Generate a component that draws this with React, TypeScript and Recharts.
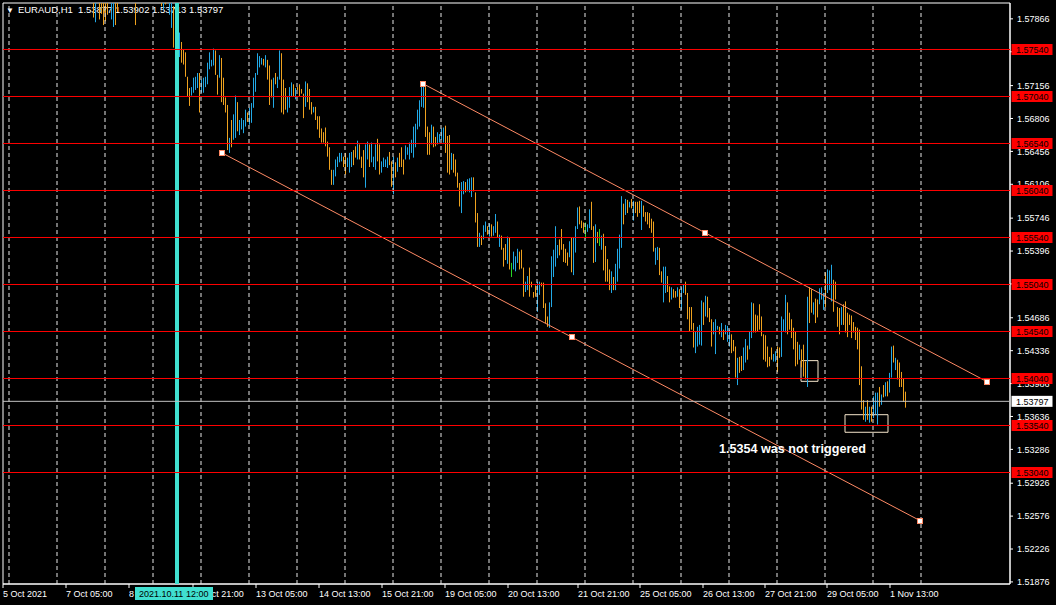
import React from "react";
import {
    ComposedChart,
    Bar,
    XAxis,
    YAxis,
    ReferenceLine,
    ReferenceDot,
    ReferenceArea,
} from "recharts";

// EURAUD H1, bar i = one hour, i = 0 is 5 Oct 2021 21:00
const highs = [
    1.5872, 1.5868, 1.5875, 1.5880, 1.5878, 1.5870, 1.5866, 1.5873, 1.5879, 1.5884,
    1.5888, 1.5882, 1.5876, 1.5870, 1.5864, 1.5868, 1.5874, 1.5871, 1.5866, 1.5860,
    1.5856, 1.5850, 1.5847, 1.5852, 1.5858, 1.5855, 1.5849, 1.5844, 1.5840, 1.5846,
    1.5851, 1.5848, 1.5842, 1.5838, 1.5835, 1.5840, 1.5845, 1.5843, 1.5838, 1.5834,
    1.5830, 1.5836, 1.5833, 1.5828, 1.5825, 1.5822, 1.5815, 1.5830, 1.5818, 1.5820,
    1.5815, 1.5812, 1.5818, 1.5826, 1.5820, 1.5812, 1.5808, 1.5815, 1.5828, 1.5832,
    1.5835, 1.5838, 1.5834, 1.5830, 1.5826, 1.5824, 1.5815, 1.5828, 1.5834, 1.5838,
    1.5842, 1.5845, 1.5840, 1.5836, 1.5838, 1.5834, 1.5830, 1.5826, 1.5822, 1.5818,
    1.5815, 1.5820, 1.5824, 1.5814, 1.5808, 1.5800, 1.5795, 1.5785, 1.5772, 1.5762,
    1.5754, 1.5751, 1.5725, 1.5713, 1.5714, 1.5724, 1.5725, 1.5729, 1.5729, 1.5722,
    1.5724, 1.5725, 1.5740, 1.5751, 1.5743, 1.5755, 1.5753, 1.5727, 1.5748, 1.5745,
    1.5724, 1.5703, 1.5695, 1.5660, 1.5679, 1.5685, 1.5705, 1.5698, 1.5679, 1.5681,
    1.5679, 1.5690, 1.5687, 1.5692, 1.5697, 1.5724, 1.5729, 1.5750, 1.5747, 1.5745,
    1.5744, 1.5748, 1.5743, 1.5737, 1.5722, 1.5724, 1.5729, 1.5725, 1.5753, 1.5750,
    1.5722, 1.5713, 1.5704, 1.5714, 1.5719, 1.5717, 1.5713, 1.5714, 1.5717, 1.5712,
    1.5707, 1.5720, 1.5718, 1.5712, 1.5698, 1.5693, 1.5693, 1.5683, 1.5683, 1.5670,
    1.5666, 1.5671, 1.5656, 1.5650, 1.5626, 1.5626, 1.5637, 1.5640, 1.5644, 1.5644,
    1.5640, 1.5644, 1.5639, 1.5644, 1.5645, 1.5647, 1.5651, 1.5657, 1.5653, 1.5640,
    1.5647, 1.5653, 1.5656, 1.5653, 1.5655, 1.5640, 1.5653, 1.5659, 1.5653, 1.5635,
    1.5639, 1.5637, 1.5640, 1.5645, 1.5635, 1.5640, 1.5634, 1.5639, 1.5644, 1.5650,
    1.5637, 1.5652, 1.5650, 1.5655, 1.5658, 1.5672, 1.5675, 1.5690, 1.5700, 1.5720,
    1.5719, 1.5714, 1.5672, 1.5666, 1.5674, 1.5672, 1.5661, 1.5666, 1.5664, 1.5670,
    1.5671, 1.5673, 1.5662, 1.5663, 1.5644, 1.5643, 1.5637, 1.5623, 1.5612, 1.5613,
    1.5614, 1.5613, 1.5616, 1.5617, 1.5618, 1.5618, 1.5602, 1.5580, 1.5559, 1.5556,
    1.5567, 1.5571, 1.5566, 1.5569, 1.5568, 1.5566, 1.5579, 1.5571, 1.5557, 1.5556,
    1.5543, 1.5547, 1.5555, 1.5554, 1.5527, 1.5539, 1.5534, 1.5542, 1.5539, 1.5541,
    1.5522, 1.5507, 1.5513, 1.5522, 1.5507, 1.5496, 1.5503, 1.5507, 1.5507, 1.5506,
    1.5506, 1.5484, 1.5470, 1.5485, 1.5534, 1.5541, 1.5566, 1.5546, 1.5552, 1.5563,
    1.5547, 1.5542, 1.5538, 1.5550, 1.5554, 1.5554, 1.5566, 1.5586, 1.5587, 1.5572,
    1.5570, 1.5570, 1.5568, 1.5584, 1.5592, 1.5566, 1.5568, 1.5560, 1.5563, 1.5556,
    1.5558, 1.5545, 1.5531, 1.5520, 1.5518, 1.5512, 1.5526, 1.5542, 1.5557, 1.5598,
    1.5590, 1.5595, 1.5594, 1.5592, 1.5595, 1.5593, 1.5592, 1.5592, 1.5593, 1.5593,
    1.5588, 1.5581, 1.5581, 1.5580, 1.5574, 1.5571, 1.5543, 1.5544, 1.5543, 1.5518,
    1.5523, 1.5523, 1.5513, 1.5502, 1.5501, 1.5499, 1.5497, 1.5501, 1.5499, 1.5501,
    1.5504, 1.5507, 1.5495, 1.5480, 1.5480, 1.5463, 1.5454, 1.5459, 1.5461, 1.5487,
    1.5485, 1.5492, 1.5491, 1.5479, 1.5467, 1.5464, 1.5467, 1.5460, 1.5459, 1.5463,
    1.5456, 1.5461, 1.5460, 1.5456, 1.5451, 1.5445, 1.5438, 1.5426, 1.5427, 1.5428,
    1.5437, 1.5446, 1.5439, 1.5454, 1.5485, 1.5484, 1.5472, 1.5471, 1.5483, 1.5470,
    1.5451, 1.5450, 1.5438, 1.5427, 1.5437, 1.5430, 1.5433, 1.5438, 1.5437, 1.5470,
    1.5467, 1.5493, 1.5485, 1.5474, 1.5467, 1.5458, 1.5454, 1.5443, 1.5440, 1.5435,
    1.5440, 1.5422, 1.5491, 1.5501, 1.5499, 1.5485, 1.5489, 1.5488, 1.5500, 1.5501,
    1.5495, 1.5517, 1.5520, 1.5519, 1.5525, 1.5509, 1.5507, 1.5480, 1.5479, 1.5480,
    1.5483, 1.5486, 1.5474, 1.5472, 1.5471, 1.5464, 1.5459, 1.5458, 1.5456, 1.5417,
    1.5381, 1.5374, 1.5381, 1.5374, 1.5374, 1.5385, 1.5389, 1.5389, 1.5395, 1.5387,
    1.5397, 1.5400, 1.5401, 1.5410, 1.5438, 1.5439, 1.5426, 1.5424, 1.5421, 1.5411,
    1.5404, 1.5390,
];

const lows = [
    1.5858, 1.5855, 1.5860, 1.5866, 1.5862, 1.5855, 1.5852, 1.5858, 1.5865, 1.5870,
    1.5874, 1.5868, 1.5862, 1.5856, 1.5850, 1.5853, 1.5860, 1.5857, 1.5850, 1.5845,
    1.5842, 1.5836, 1.5833, 1.5838, 1.5843, 1.5840, 1.5834, 1.5830, 1.5826, 1.5832,
    1.5837, 1.5834, 1.5828, 1.5823, 1.5820, 1.5825, 1.5831, 1.5828, 1.5822, 1.5818,
    1.5816, 1.5822, 1.5819, 1.5814, 1.5812, 1.5788, 1.5783, 1.5812, 1.5786, 1.5792,
    1.5780, 1.5784, 1.5791, 1.5808, 1.5786, 1.5778, 1.5780, 1.5794, 1.5810, 1.5815,
    1.5818, 1.5820, 1.5816, 1.5812, 1.5810, 1.5808, 1.5780, 1.5810, 1.5816, 1.5820,
    1.5824, 1.5828, 1.5822, 1.5818, 1.5820, 1.5816, 1.5812, 1.5810, 1.5808, 1.5800,
    1.5796, 1.5802, 1.5804, 1.5791, 1.5777, 1.5756, 1.5770, 1.5760, 1.5746, 1.5740,
    1.5738, 1.5725, 1.5704, 1.5694, 1.5705, 1.5708, 1.5711, 1.5713, 1.5687, 1.5708,
    1.5708, 1.5714, 1.5717, 1.5733, 1.5736, 1.5737, 1.5727, 1.5706, 1.5724, 1.5698,
    1.5695, 1.5687, 1.5647, 1.5644, 1.5650, 1.5658, 1.5660, 1.5667, 1.5663, 1.5669,
    1.5665, 1.5672, 1.5677, 1.5674, 1.5676, 1.5692, 1.5709, 1.5727, 1.5735, 1.5738,
    1.5737, 1.5735, 1.5722, 1.5695, 1.5703, 1.5692, 1.5717, 1.5713, 1.5722, 1.5687,
    1.5685, 1.5690, 1.5687, 1.5692, 1.5704, 1.5704, 1.5701, 1.5711, 1.5704, 1.5707,
    1.5681, 1.5693, 1.5698, 1.5690, 1.5685, 1.5687, 1.5679, 1.5669, 1.5660, 1.5655,
    1.5655, 1.5651, 1.5640, 1.5626, 1.5610, 1.5610, 1.5619, 1.5629, 1.5634, 1.5635,
    1.5629, 1.5621, 1.5629, 1.5623, 1.5629, 1.5631, 1.5639, 1.5637, 1.5637, 1.5628,
    1.5618, 1.5607, 1.5637, 1.5629, 1.5634, 1.5629, 1.5626, 1.5635, 1.5621, 1.5623,
    1.5629, 1.5629, 1.5628, 1.5631, 1.5608, 1.5600, 1.5618, 1.5624, 1.5629, 1.5629,
    1.5621, 1.5637, 1.5642, 1.5637, 1.5644, 1.5639, 1.5650, 1.5669, 1.5672, 1.5693,
    1.5692, 1.5661, 1.5642, 1.5642, 1.5653, 1.5650, 1.5651, 1.5653, 1.5655, 1.5658,
    1.5655, 1.5644, 1.5623, 1.5621, 1.5626, 1.5623, 1.5619, 1.5607, 1.5587, 1.5580,
    1.5600, 1.5602, 1.5603, 1.5602, 1.5597, 1.5603, 1.5570, 1.5544, 1.5544, 1.5546,
    1.5552, 1.5560, 1.5557, 1.5555, 1.5555, 1.5556, 1.5559, 1.5554, 1.5544, 1.5541,
    1.5523, 1.5530, 1.5526, 1.5520, 1.5512, 1.5520, 1.5518, 1.5527, 1.5520, 1.5521,
    1.5491, 1.5496, 1.5498, 1.5491, 1.5501, 1.5490, 1.5491, 1.5475, 1.5493, 1.5502,
    1.5479, 1.5463, 1.5459, 1.5458, 1.5480, 1.5512, 1.5523, 1.5532, 1.5535, 1.5541,
    1.5528, 1.5527, 1.5524, 1.5533, 1.5517, 1.5514, 1.5538, 1.5563, 1.5568, 1.5564,
    1.5559, 1.5553, 1.5560, 1.5564, 1.5562, 1.5527, 1.5528, 1.5548, 1.5545, 1.5541,
    1.5519, 1.5507, 1.5507, 1.5498, 1.5495, 1.5498, 1.5498, 1.5507, 1.5521, 1.5543,
    1.5568, 1.5578, 1.5580, 1.5586, 1.5585, 1.5572, 1.5580, 1.5576, 1.5580, 1.5562,
    1.5576, 1.5571, 1.5568, 1.5564, 1.5559, 1.5539, 1.5525, 1.5530, 1.5514, 1.5506,
    1.5485, 1.5495, 1.5496, 1.5485, 1.5488, 1.5490, 1.5490, 1.5491, 1.5479, 1.5477,
    1.5495, 1.5493, 1.5467, 1.5454, 1.5456, 1.5437, 1.5431, 1.5438, 1.5440, 1.5439,
    1.5461, 1.5470, 1.5469, 1.5464, 1.5438, 1.5451, 1.5430, 1.5456, 1.5451, 1.5448,
    1.5445, 1.5451, 1.5443, 1.5438, 1.5431, 1.5433, 1.5405, 1.5397, 1.5410, 1.5412,
    1.5413, 1.5421, 1.5424, 1.5435, 1.5447, 1.5453, 1.5453, 1.5454, 1.5456, 1.5449,
    1.5424, 1.5422, 1.5416, 1.5417, 1.5424, 1.5422, 1.5422, 1.5411, 1.5426, 1.5427,
    1.5454, 1.5453, 1.5451, 1.5456, 1.5447, 1.5435, 1.5417, 1.5419, 1.5424, 1.5416,
    1.5406, 1.5403, 1.5395, 1.5463, 1.5474, 1.5472, 1.5463, 1.5469, 1.5483, 1.5488,
    1.5477, 1.5480, 1.5495, 1.5498, 1.5486, 1.5475, 1.5488, 1.5459, 1.5451, 1.5461,
    1.5461, 1.5453, 1.5448, 1.5461, 1.5447, 1.5453, 1.5445, 1.5435, 1.5397, 1.5371,
    1.5360, 1.5358, 1.5360, 1.5357, 1.5358, 1.5362, 1.5366, 1.5355, 1.5374, 1.5376,
    1.5384, 1.5385, 1.5385, 1.5389, 1.5405, 1.5421, 1.5413, 1.5403, 1.5395, 1.5395,
    1.5379, 1.5373,
];

// u = bull bar, d = bear bar, g = doji
const dirs =
    "dudduddudu" + "ddudduudud" + "duudddudud" + "uddddudddd" + "uddddduddd" +
    "ddduuudduu" + "ddudduddud" + "duddudddud" + "udduudddud" + "dddduuuudu" +
    "uuuuuuddud" + "ddduduuduu" + "uuduuuuuuu" + "duddduduud" + "dduuududdd" +
    "dudddudddd" + "ddddduuuuu" + "dduuuddudd" + "duuduuuddu" + "uuuddududd" +
    "duuuuuuuuu" + "udddudduuu" + "uddduddddu" + "uduuudddud" + "uududuudud" +
    "ddudguuudd" + "duudddduud" + "ddduuuuudd" + "ddduduuudd" + "dguuddudgu" +
    "dddduduuuu" + "dudududddu" + "dddddduudd" + "uudduddudu" + "uddddduuuu" +
    "duddduuudu" + "duuudddudd" + "uuduuddddd" + "ddddduuddu" + "uuddddddud" +
    "dduddudduu" + "uduuuddddu" + "dddddddddd" + "dududuuudu" + "duduududdd" +
    "dd";

const levels = [1.5754, 1.5704, 1.5654, 1.5604, 1.5554, 1.5504, 1.5454, 1.5404, 1.5354, 1.5304];
const lastPrice = 1.53797;
const priceTicks = [
    1.57866, 1.57516, 1.57156, 1.56806, 1.56456, 1.56106, 1.55746, 1.55396, 1.55046,
    1.54686, 1.54336, 1.53986, 1.53636, 1.53286, 1.52926, 1.52576, 1.52226, 1.51876,
];
const timeTicks = [0, 31.5, 63, 95, 126.5, 158, 189.5, 221, 252.5, 287.5, 318.5, 350, 381, 412, 443.5];
const timeLabels = [
    "5 Oct 2021", "7 Oct 05:00", "8 Oct 13:00", "11 Oct 21:00", "13 Oct 05:00",
    "14 Oct 13:00", "15 Oct 21:00", "19 Oct 05:00", "20 Oct 13:00", "21 Oct 21:00",
    "25 Oct 05:00", "26 Oct 13:00", "27 Oct 21:00", "29 Oct 05:00", "1 Nov 13:00",
];
// day separators (00:00 of each trading day)
const dayLines = [3, 27, 51, 75, 99, 123, 147, 171, 195, 219, 243, 267, 291, 315, 339, 363, 387, 411, 435, 459];

const markerIndex = 87;
const markerLabel = "2021.10.11 12:00";

const upperChannel = [
    { x: 210, y: 1.57176 },
    { x: 351, y: 1.55591 },
    { x: 492, y: 1.54006 },
];
const lowerChannel = [
    { x: 109.5, y: 1.5644 },
    { x: 284.5, y: 1.54484 },
    { x: 458.5, y: 1.52528 },
];
const boxes = [
    { x1: 399, x2: 407.5, y1: 1.5401, y2: 1.5423 },
    { x1: 421, x2: 442.5, y1: 1.53468, y2: 1.53655 },
];

const X_DOMAIN: [number, number] = [0, 503.5];
const Y_DOMAIN: [number, number] = [1.5185383, 1.5803468];

const COLORS = {
    up: "#22a9e6",
    down: "#eea21f",
    doji: "#25d425",
    level: "#ff0000",
    channel: "#ff8a65",
    grid: "#e8e8e8",
    marker: "#40e0d0",
    box: "#f5e6cc",
    bid: "#c0c0c0",
};

const FONT = "'Liberation Sans', Arial, sans-serif";

const bars = highs.map((h, i) => ({
    i,
    range: [lows[i], h],
    dir: dirs[i],
}));

function OhlcBar(props: any) {
    const { x, width, y, height, payload } = props;
    if (x == null || y == null) return null;
    const cx = Math.round(x + width / 2);
    const top = Math.min(y, y + height);
    const h = Math.max(1, Math.abs(height));
    const fill = payload.dir === "u" ? COLORS.up : payload.dir === "g" ? COLORS.doji : COLORS.down;
    return <rect x={cx} y={top} width={1} height={h} fill={fill} />;
}

function PriceTag({ viewBox, text, bg, fg }: any) {
    if (!viewBox) return null;
    const x = viewBox.x + viewBox.width + 1.5;
    const y = viewBox.y;
    return (
        <g>
            <rect x={x} y={y - 5.5} width={41} height={11} fill={bg} />
            <text x={x + 4.5} y={y + 3.5} fill={fg} fontSize={9} fontFamily={FONT}>
                {text}
            </text>
        </g>
    );
}

function DateTag({ viewBox, text }: any) {
    if (!viewBox) return null;
    const bottom = viewBox.y + viewBox.height;
    return (
        <g>
            <rect x={viewBox.x - 42} y={bottom + 3} width={78} height={13} fill={COLORS.marker} />
            <text x={viewBox.x - 38} y={bottom + 13} fill="#000" fontSize={9} fontFamily={FONT}>
                {text}
            </text>
        </g>
    );
}

function AnchorSquare(props: any) {
    const { cx, cy } = props;
    if (cx == null || cy == null) return null;
    return (
        <rect x={Math.round(cx) - 2.5} y={Math.round(cy) - 2.5} width={5} height={5}
            fill="#ffffff" stroke={COLORS.channel} strokeWidth={1} />
    );
}

function TimeTick({ x, y, payload }: any) {
    const idx = timeTicks.indexOf(payload.value);
    return (
        <text x={x} y={y + 7} fill="#ffffff" fontSize={9} fontFamily={FONT}>
            {timeLabels[idx]}
        </text>
    );
}

function PriceTick({ x, y, payload }: any) {
    return (
        <text x={x} y={y + 3.2} fill="#ffffff" fontSize={9} fontFamily={FONT}>
            {payload.value.toFixed(5)}
        </text>
    );
}

export default function App() {
    return (
        <div style={styles.page}>
            <style>{"body{margin:0;background:#000}"}</style>
            <div style={styles.title}>
                <span style={{ fontSize: 8, marginRight: 4 }}>▼</span>
                EURAUD,H1&nbsp;&nbsp;1.53877 1.53902 1.53713 1.53797
            </div>
            <div style={styles.chart}>
                <ComposedChart
                    width={1056}
                    height={605}
                    data={bars}
                    margin={{ top: 3, left: 3, right: 0, bottom: 0 }}
                    barSize={1}
                >
                    <XAxis
                        dataKey="i"
                        type="number"
                        domain={X_DOMAIN}
                        ticks={timeTicks}
                        interval={0}
                        tick={<TimeTick />}
                        tickSize={4}
                        tickLine={{ stroke: "#ffffff" }}
                        axisLine={{ stroke: "#ffffff" }}
                        height={21}
                        allowDataOverflow
                        zIndex={-10}
                    />
                    <YAxis
                        orientation="right"
                        type="number"
                        domain={Y_DOMAIN}
                        ticks={priceTicks}
                        interval={0}
                        tick={<PriceTick />}
                        tickSize={3}
                        tickMargin={4}
                        tickLine={{ stroke: "#ffffff" }}
                        axisLine={{ stroke: "#ffffff" }}
                        width={46}
                        allowDataOverflow
                        zIndex={-10}
                    />

                    {dayLines.map((d) => (
                        <ReferenceLine key={"g" + d} x={d} stroke={COLORS.grid} strokeDasharray="4 3" />
                    ))}

                    <ReferenceLine
                        x={markerIndex}
                        stroke={COLORS.marker}
                        strokeWidth={4}
                        label={<DateTag text={markerLabel} />}
                        zIndex={2500}
                    />

                    <Bar dataKey="range" isAnimationActive={false} shape={<OhlcBar />} />

                    {levels.map((lv) => (
                        <ReferenceLine
                            key={"l" + lv}
                            y={lv}
                            stroke={COLORS.level}
                            label={<PriceTag text={lv.toFixed(5)} bg={COLORS.level} fg="#000" />}
                            zIndex={2500}
                        />
                    ))}

                    <ReferenceLine
                        y={lastPrice}
                        stroke={COLORS.bid}
                        label={<PriceTag text={lastPrice.toFixed(5)} bg="#ffffff" fg="#000" />}
                        zIndex={2500}
                    />

                    <ReferenceLine
                        segment={[upperChannel[0], upperChannel[2]]}
                        stroke={COLORS.channel}
                    />
                    <ReferenceLine
                        segment={[lowerChannel[0], lowerChannel[2]]}
                        stroke={COLORS.channel}
                    />
                    {[...upperChannel, ...lowerChannel].map((p, k) => (
                        <ReferenceDot key={"a" + k} x={p.x} y={p.y} shape={<AnchorSquare />} />
                    ))}

                    {boxes.map((b, k) => (
                        <ReferenceArea
                            key={"b" + k}
                            x1={b.x1}
                            x2={b.x2}
                            y1={b.y1}
                            y2={b.y2}
                            fill="none"
                            stroke={COLORS.box}
                            strokeWidth={1}
                        />
                    ))}

                    <ReferenceArea
                        x1={X_DOMAIN[0]}
                        x2={X_DOMAIN[1]}
                        y1={Y_DOMAIN[0]}
                        y2={Y_DOMAIN[1]}
                        fill="none"
                        stroke="#ffffff"
                    />
                </ComposedChart>
            </div>
            <div style={styles.note}>1.5354 was not triggered</div>
        </div>
    );
}

const styles: Record<string, React.CSSProperties> = {
    page: {
        position: "relative",
        width: 1056,
        height: 605,
        background: "#000000",
        overflow: "hidden",
    },
    title: {
        position: "absolute",
        left: 6,
        top: 4,
        zIndex: 0,
        color: "#ffffff",
        fontFamily: FONT,
        fontSize: 9.5,
        whiteSpace: "pre",
    },
    chart: {
        position: "relative",
        zIndex: 1,
    },
    note: {
        position: "absolute",
        left: 719,
        top: 442,
        zIndex: 2,
        color: "#ffffff",
        fontFamily: FONT,
        fontWeight: "bold",
        fontSize: 12.6,
        whiteSpace: "pre",
    },
};
